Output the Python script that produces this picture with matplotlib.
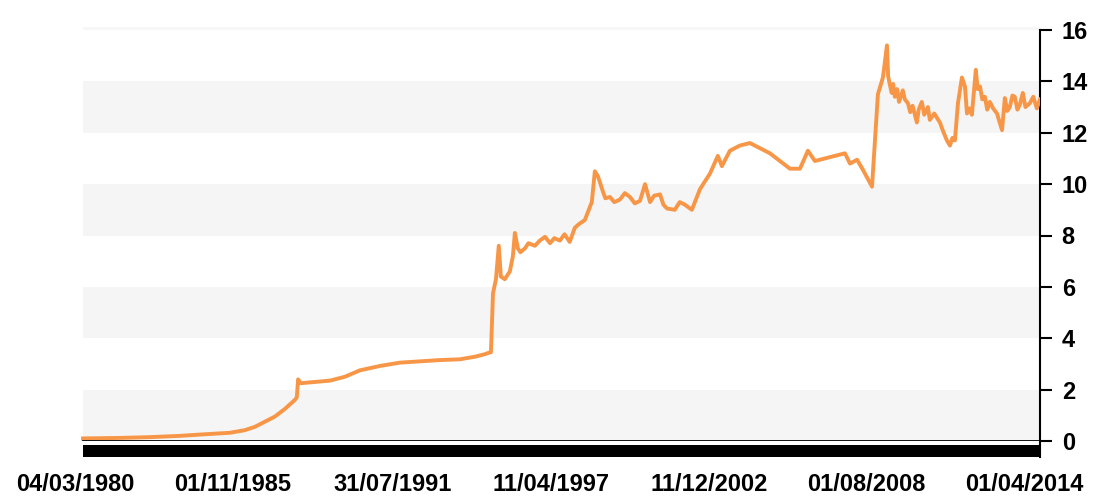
import numpy as np
import pandas as pd
import matplotlib
matplotlib.use("Agg")
import matplotlib.pyplot as plt
from matplotlib.patches import Rectangle

plt.rcParams['font.family'] = ['Liberation Sans', 'DejaVu Sans']

# price series
dates = [
	"1980-06-17", "1981-10-15", "1982-11-10", "1983-12-08", "1984-08-28", "1985-09-25",
	"1986-04-08", "1986-08-18", "1986-12-28", "1987-05-08", "1987-09-17", "1988-01-26",
	"1988-02-20", "1988-03-08", "1988-04-12", "1988-10-15", "1989-04-30", "1989-11-10",
	"1990-05-27", "1991-02-13", "1991-11-01", "1992-07-20", "1993-04-08", "1993-12-27",
	"1994-07-13", "1994-11-22", "1995-01-27", "1995-02-09", "1995-03-08", "1995-04-16",
	"1995-05-23", "1995-06-19", "1995-08-10", "1995-10-15", "1995-11-24", "1995-12-20",
	"1996-01-28", "1996-03-01", "1996-04-30", "1996-06-15", "1996-09-08", "1996-11-10",
	"1997-01-18", "1997-03-25", "1997-05-20", "1997-08-01", "1997-10-01", "1997-12-08",
	"1998-02-13", "1998-04-10", "1998-06-24", "1998-09-24", "1998-11-03", "1998-12-14",
	"1999-02-18", "1999-03-20", "1999-05-20", "1999-07-15", "1999-09-28", "1999-12-01",
	"2000-02-06", "2000-04-10", "2000-06-17", "2000-08-22", "2000-10-27", "2000-12-20",
	"2001-03-07", "2001-04-20", "2001-06-07", "2001-09-16", "2001-11-20", "2002-01-26",
	"2002-04-28", "2002-08-12", "2002-10-15", "2002-12-20", "2003-02-10", "2003-04-04",
	"2003-05-27", "2003-09-09", "2004-01-17", "2004-05-28", "2004-10-06", "2005-02-15",
	"2005-06-27", "2005-11-05", "2006-03-16", "2006-06-28", "2006-09-28", "2007-02-07",
	"2007-06-18", "2007-10-27", "2008-01-01", "2008-04-03", "2008-06-20", "2008-09-20",
	"2008-10-16", "2008-11-24", "2009-01-01", "2009-03-08", "2009-04-30", "2009-05-15",
	"2009-06-05", "2009-07-01", "2009-07-20", "2009-08-11", "2009-09-10", "2009-10-05",
	"2009-11-24", "2009-12-20", "2010-01-30", "2010-03-01", "2010-04-01", "2010-05-27",
	"2010-06-20", "2010-07-31", "2010-09-01", "2010-10-19", "2010-11-13", "2011-01-10",
	"2011-03-25", "2011-05-01", "2011-06-25", "2011-08-04", "2011-09-05", "2011-10-08",
	"2011-11-17", "2012-01-08", "2012-02-17", "2012-03-14", "2012-04-15", "2012-05-18",
	"2012-07-08", "2012-08-01", "2012-09-01", "2012-10-01", "2012-11-04", "2012-12-05",
	"2013-01-08", "2013-02-20", "2013-04-12", "2013-06-17", "2013-07-24", "2013-08-25",
	"2013-09-27", "2013-11-01", "2013-12-01", "2014-01-05", "2014-02-06", "2014-03-17",
	"2014-04-20", "2014-06-17", "2014-08-01", "2014-09-17", "2014-10-27",
]
values = [
	0.10, 0.12, 0.15, 0.20, 0.25, 0.32,
	0.42, 0.55, 0.75, 0.95, 1.25, 1.60,
	1.70, 2.40, 2.25, 2.30, 2.35, 2.50,
	2.75, 2.92, 3.05, 3.10, 3.15, 3.18,
	3.28, 3.38, 3.45, 3.45, 5.75, 6.30,
	7.60, 6.40, 6.30, 6.60, 7.20, 8.10,
	7.50, 7.35, 7.50, 7.70, 7.60, 7.80,
	7.95, 7.70, 7.90, 7.80, 8.05, 7.75,
	8.30, 8.45, 8.60, 9.30, 10.50, 10.30,
	9.70, 9.45, 9.50, 9.30, 9.40, 9.65,
	9.50, 9.25, 9.35, 10.00, 9.30, 9.55,
	9.60, 9.20, 9.05, 9.00, 9.30, 9.20,
	9.00, 9.80, 10.10, 10.40, 10.75, 11.10,
	10.70, 11.30, 11.50, 11.60, 11.40, 11.20,
	10.90, 10.60, 10.60, 11.30, 10.90, 11.00,
	11.10, 11.20, 10.80, 10.95, 10.55, 10.05,
	9.90, 11.70, 13.50, 14.15, 15.40, 14.20,
	13.90, 13.55, 13.90, 13.40, 13.70, 13.20,
	13.65, 13.30, 13.15, 12.80, 13.05, 12.40,
	12.90, 13.20, 12.70, 13.00, 12.50, 12.75,
	12.40, 12.10, 11.70, 11.50, 11.80, 11.70,
	13.15, 14.15, 13.80, 12.75, 12.95, 12.70,
	14.45, 13.70, 13.80, 13.30, 13.40, 12.90,
	13.20, 12.95, 12.75, 12.10, 13.35, 12.85,
	13.00, 13.45, 13.40, 12.90, 13.10, 13.55,
	13.00, 13.15, 13.40, 12.95, 13.30,
]

tick_dates = ["1980-03-04", "1985-11-01", "1991-07-31", "1997-04-11", "2002-12-11", "2008-08-01", "2014-04-01"]
tick_labels = ["04/03/1980", "01/11/1985", "31/07/1991", "11/04/1997", "11/12/2002", "01/08/2008", "01/04/2014"]
y_ticks = [0, 2, 4, 6, 8, 10, 12, 14, 16]

fig = plt.figure(figsize=(10.99, 4.96), dpi=100)
ax = fig.add_axes([75/1099, 55/496, 965/1099, 411/496])

x0 = 8/965  # plot area starts a bit right of the first label
for lo in [0, 4, 8, 12]:
	ax.axhspan(lo, lo + 2, xmin=x0, xmax=1, color='#f5f5f5', lw=0, zorder=0)
top_band = ax.axhspan(16, 16.1, xmin=x0, xmax=1, color='#f7f7f7', lw=0, zorder=0)
top_band.set_clip_on(False)

ax.plot(pd.to_datetime(dates), values, color='#F79646', lw=2.8, solid_joinstyle='round', zorder=3)

ax.axhline(0, xmin=x0, xmax=1, color='black', lw=1.3, zorder=4)
ax.add_patch(Rectangle((x0, -16/411), 1 - x0, 12/411, transform=ax.transAxes,
	facecolor='black', edgecolor='none', clip_on=False))

ax.set_xlim(pd.Timestamp("1980-03-04"), pd.Timestamp("2014-10-28"))
ax.set_ylim(0, 16)

for s in ['left', 'top', 'bottom']:
	ax.spines[s].set_visible(False)
ax.spines['right'].set_linewidth(1.5)
ax.spines['right'].set_bounds(-16/411*16, 16)

ax.yaxis.tick_right()
ax.set_yticks(y_ticks)
ax.set_yticklabels([str(v) for v in y_ticks], fontsize=17, fontweight='bold')
ax.tick_params(axis='y', length=8.6, width=1.5, pad=7)

ax.set_xticks(pd.to_datetime(tick_dates))
ax.set_xticklabels(tick_labels, fontsize=17, fontweight='bold')
ax.tick_params(axis='x', length=0, pad=23)

fig.savefig("out.png", dpi=100)
